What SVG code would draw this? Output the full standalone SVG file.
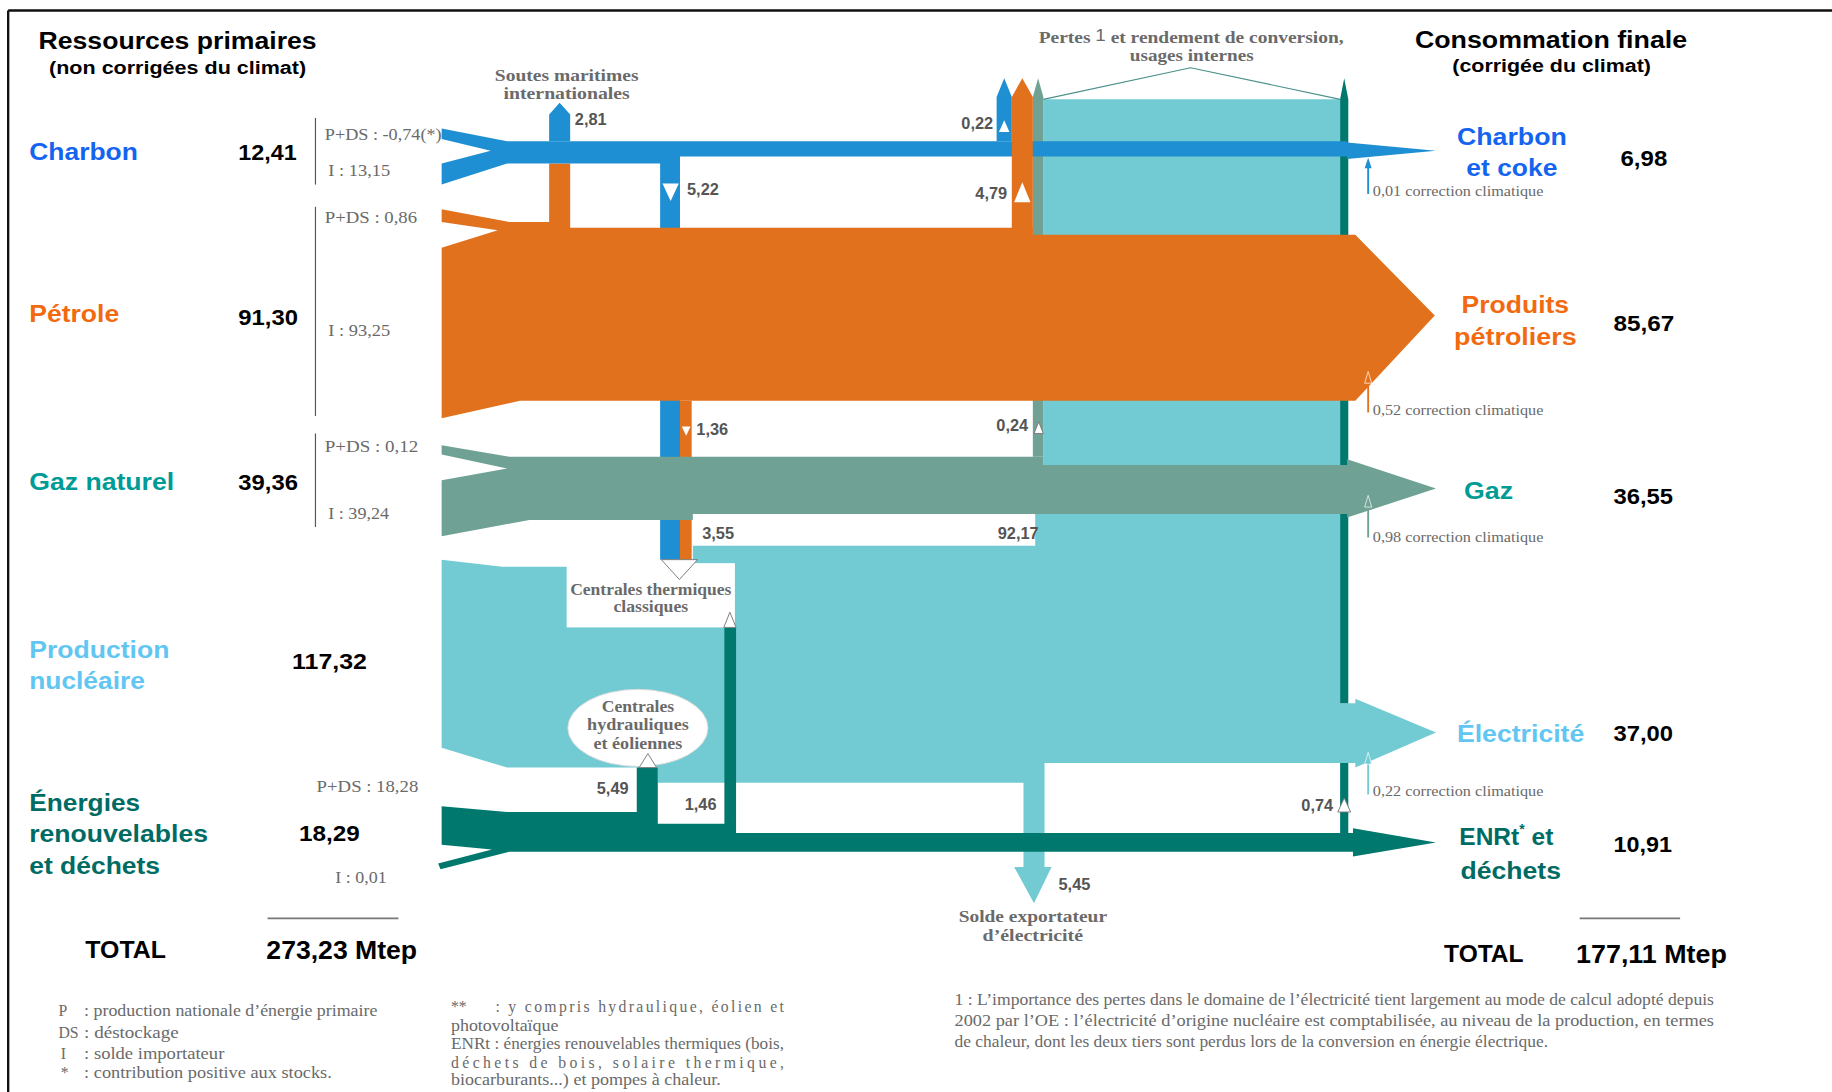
<svg xmlns="http://www.w3.org/2000/svg" width="1832" height="1092" viewBox="0 0 1832 1092">
<style>
.t{font-family:"Liberation Sans",Arial,sans-serif;font-weight:bold}
.nr{font-family:"Liberation Sans Narrow","Liberation Sans",Arial,sans-serif;font-weight:bold}
.n{font-family:"Liberation Sans Narrow","Liberation Sans",Arial,sans-serif;font-weight:bold;fill:#555;font-size:14px}
.s{font-family:"Liberation Serif","Times New Roman",serif;fill:#6a6a6a;font-size:13.5px}
.sl{font-family:"Liberation Serif","Times New Roman",serif;fill:#6a6a6a;font-size:15px}
.sb{font-family:"Liberation Serif","Times New Roman",serif;font-weight:bold;fill:#6a6a6a;font-size:14.5px}
.cc{font-family:"Liberation Serif","Times New Roman",serif;fill:#6a6a6a;font-size:12px}
.blue{fill:#1e8fd2}.or{fill:#e2711d}.gas{fill:#6fa294}.cy{fill:#72cbd3}.te{fill:#00786e}
.wt{fill:#fff}
.tri{fill:#fff;stroke:#777;stroke-width:0.8}
.br{stroke:#555;stroke-width:1;fill:none}
.k{fill:#000}
</style>
<rect width="1832" height="1092" fill="#fff"/>
<g transform="scale(1.16837)">
<path d="M7,9 H1568 M7,9 V935" stroke="#111" stroke-width="2" fill="none"/>

<g id="flows">
  <path id="flow-nucleaire" class="cy" d="M378,479 L430,485 L593,485 L593,467 L886,467 L886,440 L893,440 L893,85 L1147,85 L1147,602 L1160,602 L1160,598 L1229,627 L1160,657 L1160,653 L894,653 L894,742 L900,742 L885,773 L868,742 L876,742 L876,670 L563,670 L563,657 L434,657 L378,640 Z"/>
  <path id="roof" d="M893,85 L1019,58 L1147,85" fill="none" stroke="#4a8f8a" stroke-width="1"/>
  <path id="col-gas-pertes" class="gas" d="M884,391 L884,83 L888.5,67 L893,83 L893,391 Z"/>
  <path id="col-enr-pertes" class="te" d="M1147,602 L1147,85 L1150.5,67 L1154,85 L1154,602 Z M1147,653 H1154 V713 H1147 Z"/>
  <rect id="col-522" class="blue" x="565" y="134" width="17" height="345"/>
  <rect id="col-136" class="or" x="582" y="343" width="10" height="136"/>
  <path id="flow-petrole" class="or" d="M378,179 L436,190 L470,190 L470,140 L488,140 L488,195 L884,195 L884,201 L1160,201 L1228,270 L1160,343 L445,343 L378,358 L378,212 L426,197 L378,190 Z"/>
  <path id="flow-gaz" class="gas" d="M378,381 L436,391 L893,391 L893,398 L1153,398 L1153,393 L1229,418 L1153,443 L1153,440 L593,440 L593,445 L453,445 L378,459 L378,411 L434,401 L378,389 Z"/>
  <path id="flow-charbon" class="blue" d="M378,110 L434,121 L1153,121 L1153,122 L1229,129 L1153,136 L1153,134 L582,134 L582,140 L434,140 L378,158 L378,140 L420,129 L378,119 Z"/>
  <path id="col-022" class="blue" d="M853,121 L853,83 L859.5,67 L866,83 L866,121 Z"/>
  <path id="col-479" class="or" d="M866,201 L866,83 L875,67 L884,83 L884,201 Z"/>
  <path id="col-soutes" class="blue" d="M470,121 L470,98 L479,88 L488,98 L488,121 Z"/>
  <path id="flow-enr" class="te" d="M378,690 L434,695 L545,695 L545,657 L563,657 L563,705 L620,705 L620,537 L630,537 L630,713 L1158,713 L1158,709 L1229,721 L1158,733 L1158,729 L436,729 L377,744 L375,739 L421,727 L378,723 Z"/>
  <polygon class="wt" points="567,157 581,157 574,172"/>
  <polygon class="wt" points="868,173 882,173 875,156"/>
  <polygon class="wt" points="855,113 864,113 859.5,103"/>
  <polygon class="wt" points="583.5,365 591,365 587.3,373"/>
  <polygon class="tri" points="885,371 893,371 889,361"/>
  <polygon class="tri" points="1145,695 1156,695 1150.5,683"/>
  <g id="corr-charbon">
    <line x1="1171" y1="166" x2="1171" y2="142" stroke="#1e8fd2" stroke-width="1.6"/>
    <polygon points="1168,144 1174,144 1171,135" fill="#1e8fd2"/>
  </g>
  <g id="corr-petrole">
    <line x1="1171" y1="353" x2="1171" y2="326" stroke="#e2711d" stroke-width="1.6"/>
    <polygon points="1168,328 1174,328 1171,318" fill="#e2711d" stroke="#fff" stroke-width="0.6"/>
  </g>
  <g id="corr-gaz">
    <line x1="1171" y1="460" x2="1171" y2="432" stroke="#6fa294" stroke-width="1.6"/>
    <polygon points="1168,434 1174,434 1171,424" fill="#6fa294" stroke="#fff" stroke-width="0.6"/>
  </g>
  <g id="corr-elec">
    <line x1="1171" y1="680" x2="1171" y2="652" stroke="#72cbd3" stroke-width="1.6"/>
    <polygon points="1168,654 1174,654 1171,644" fill="#72cbd3" stroke="#fff" stroke-width="0.6"/>
  </g>
</g>

<g id="node-centrales-thermiques">
  <rect x="485" y="482" width="144" height="55" fill="#fff"/>
  <polygon class="tri" points="566,479 597,479 581.5,496"/>
  <polygon class="tri" points="619.5,537 630,537 624.7,524"/>
  <text class="sb" x="557" y="509" text-anchor="middle" textLength="138" lengthAdjust="spacingAndGlyphs">Centrales thermiques</text>
  <text class="sb" x="557" y="524" text-anchor="middle" textLength="64" lengthAdjust="spacingAndGlyphs">classiques</text>
</g>
<g id="node-centrales-hydrauliques">
  <ellipse cx="546" cy="623" rx="60" ry="33" fill="#fff" stroke="#d8d8d8" stroke-width="0.8"/>
  <polygon class="tri" points="547,657 562,657 554.5,645"/>
  <text class="sb" x="546" y="609" text-anchor="middle" textLength="62" lengthAdjust="spacingAndGlyphs">Centrales</text>
  <text class="sb" x="546" y="625" text-anchor="middle" textLength="87" lengthAdjust="spacingAndGlyphs">hydrauliques</text>
  <text class="sb" x="546" y="641" text-anchor="middle" textLength="76" lengthAdjust="spacingAndGlyphs">et éoliennes</text>
</g>
<g id="node-soutes">
  <text class="sb" x="485" y="69" text-anchor="middle" textLength="123" lengthAdjust="spacingAndGlyphs">Soutes maritimes</text>
  <text class="sb" x="485" y="85" text-anchor="middle" textLength="108" lengthAdjust="spacingAndGlyphs">internationales</text>
</g>
<g id="node-pertes">
  <text class="sb" x="889" y="37" font-size="13" textLength="261" lengthAdjust="spacingAndGlyphs">Pertes <tspan font-family="Liberation Sans, Arial, sans-serif" font-weight="normal" font-size="14" dy="-2">1</tspan><tspan dy="2"> et rendement de conversion,</tspan></text>
  <text class="sb" x="1020" y="52" font-size="13" text-anchor="middle" textLength="106" lengthAdjust="spacingAndGlyphs">usages internes</text>
</g>
<g id="node-solde">
  <text class="sb" x="884" y="789" text-anchor="middle" textLength="127" lengthAdjust="spacingAndGlyphs">Solde exportateur</text>
  <text class="sb" x="884" y="805" text-anchor="middle" textLength="86" lengthAdjust="spacingAndGlyphs">d’électricité</text>
</g>

<g id="flow-labels">
  <text class="n" x="492" y="107">2,81</text>
  <text class="n" x="588" y="167">5,22</text>
  <text class="n" x="850" y="110" text-anchor="end">0,22</text>
  <text class="n" x="862" y="170" text-anchor="end">4,79</text>
  <text class="n" x="596" y="372">1,36</text>
  <text class="n" x="880" y="369" text-anchor="end">0,24</text>
  <text class="n" x="601" y="461">3,55</text>
  <text class="n" x="889" y="461" text-anchor="end">92,17</text>
  <text class="n" x="538" y="680" text-anchor="end">5,49</text>
  <text class="n" x="586" y="693">1,46</text>
  <text class="n" x="906" y="762">5,45</text>
  <text class="n" x="1141" y="694" text-anchor="end">0,74</text>
  <text class="cc" x="1175" y="168" textLength="146" lengthAdjust="spacingAndGlyphs">0,01 correction climatique</text>
  <text class="cc" x="1175" y="355" textLength="146" lengthAdjust="spacingAndGlyphs">0,52 correction climatique</text>
  <text class="cc" x="1175" y="464" textLength="146" lengthAdjust="spacingAndGlyphs">0,98 correction climatique</text>
  <text class="cc" x="1175" y="681" textLength="146" lengthAdjust="spacingAndGlyphs">0,22 correction climatique</text>
</g>

<g id="header-left">
  <text class="t k" x="33" y="42" font-size="21" textLength="238" lengthAdjust="spacingAndGlyphs">Ressources primaires</text>
  <text class="t k" x="42" y="63" font-size="16" textLength="220" lengthAdjust="spacingAndGlyphs">(non corrigées du climat)</text>
</g>
<g id="header-right">
  <text class="t k" x="1211" y="41" font-size="21" textLength="233" lengthAdjust="spacingAndGlyphs">Consommation finale</text>
  <text class="t k" x="1243" y="62" font-size="16" textLength="170" lengthAdjust="spacingAndGlyphs">(corrigée du climat)</text>
</g>

<g id="src-charbon">
  <text class="t" x="25" y="137" font-size="21" fill="#1464f0" textLength="93" lengthAdjust="spacingAndGlyphs">Charbon</text>
  <text class="t k" x="204" y="137" font-size="19" textLength="50" lengthAdjust="spacingAndGlyphs">12,41</text>
  <path class="br" d="M270,101 V158"/>
  <text class="sl" x="278" y="120" textLength="100" lengthAdjust="spacingAndGlyphs">P+DS : -0,74(*)</text>
  <text class="sl" x="281" y="151" textLength="53" lengthAdjust="spacingAndGlyphs">I : 13,15</text>
</g>
<g id="src-petrole">
  <text class="t" x="25" y="276" font-size="21" fill="#f26a10" textLength="77" lengthAdjust="spacingAndGlyphs">Pétrole</text>
  <text class="t k" x="204" y="278" font-size="19" textLength="51" lengthAdjust="spacingAndGlyphs">91,30</text>
  <path class="br" d="M270,177 V356"/>
  <text class="sl" x="278" y="191" textLength="79" lengthAdjust="spacingAndGlyphs">P+DS : 0,86</text>
  <text class="sl" x="281" y="288" textLength="53" lengthAdjust="spacingAndGlyphs">I : 93,25</text>
</g>
<g id="src-gaz">
  <text class="t" x="25" y="419" font-size="21" fill="#009b95" textLength="124" lengthAdjust="spacingAndGlyphs">Gaz naturel</text>
  <text class="t k" x="204" y="419" font-size="19" textLength="51" lengthAdjust="spacingAndGlyphs">39,36</text>
  <path class="br" d="M270,371 V451"/>
  <text class="sl" x="278" y="387" textLength="80" lengthAdjust="spacingAndGlyphs">P+DS : 0,12</text>
  <text class="sl" x="281" y="444" textLength="52" lengthAdjust="spacingAndGlyphs">I : 39,24</text>
</g>
<g id="src-nucleaire">
  <text class="t" x="25" y="563" font-size="21" fill="#62c6f2" textLength="120" lengthAdjust="spacingAndGlyphs">Production</text>
  <text class="t" x="25" y="590" font-size="21" fill="#62c6f2" textLength="99" lengthAdjust="spacingAndGlyphs">nucléaire</text>
  <text class="t k" x="250" y="573" font-size="19" textLength="64" lengthAdjust="spacingAndGlyphs">117,32</text>
</g>
<g id="src-enr">
  <text class="t" x="25" y="694" font-size="21" fill="#006b63" textLength="95" lengthAdjust="spacingAndGlyphs">Énergies</text>
  <text class="t" x="25" y="721" font-size="21" fill="#006b63" textLength="153" lengthAdjust="spacingAndGlyphs">renouvelables</text>
  <text class="t" x="25" y="748" font-size="21" fill="#006b63" textLength="112" lengthAdjust="spacingAndGlyphs">et déchets</text>
  <text class="t k" x="256" y="720" font-size="19" textLength="52" lengthAdjust="spacingAndGlyphs">18,29</text>
  <text class="sl" x="271" y="678" textLength="87" lengthAdjust="spacingAndGlyphs">P+DS : 18,28</text>
  <text class="sl" x="287" y="756" textLength="44" lengthAdjust="spacingAndGlyphs">I : 0,01</text>
</g>
<g id="total-left">
  <path d="M229,786 H341" stroke="#777" stroke-width="1.5"/>
  <text class="nr k" x="73" y="820" font-size="20" textLength="69" lengthAdjust="spacingAndGlyphs">TOTAL</text>
  <text class="nr k" x="228" y="821" font-size="22" textLength="129" lengthAdjust="spacingAndGlyphs">273,23 Mtep</text>
</g>

<g id="dst-charbon">
  <text class="t" x="1294" y="124" font-size="21" fill="#1464f0" text-anchor="middle" textLength="94" lengthAdjust="spacingAndGlyphs">Charbon</text>
  <text class="t" x="1294" y="151" font-size="21" fill="#1464f0" text-anchor="middle" textLength="78" lengthAdjust="spacingAndGlyphs">et coke</text>
  <text class="nr k" x="1387" y="142" font-size="19" textLength="40" lengthAdjust="spacingAndGlyphs">6,98</text>
</g>
<g id="dst-petrole">
  <text class="t" x="1297" y="268" font-size="21" fill="#f26a10" text-anchor="middle" textLength="92" lengthAdjust="spacingAndGlyphs">Produits</text>
  <text class="t" x="1297" y="295" font-size="21" fill="#f26a10" text-anchor="middle" textLength="105" lengthAdjust="spacingAndGlyphs">pétroliers</text>
  <text class="nr k" x="1381" y="283" font-size="19" textLength="52" lengthAdjust="spacingAndGlyphs">85,67</text>
</g>
<g id="dst-gaz">
  <text class="t" x="1253" y="427" font-size="21" fill="#009b95" textLength="42" lengthAdjust="spacingAndGlyphs">Gaz</text>
  <text class="nr k" x="1381" y="431" font-size="19" textLength="51" lengthAdjust="spacingAndGlyphs">36,55</text>
</g>
<g id="dst-elec">
  <text class="t" x="1247" y="635" font-size="21" fill="#62c6f2" textLength="109" lengthAdjust="spacingAndGlyphs">Électricité</text>
  <text class="nr k" x="1381" y="634" font-size="19" textLength="51" lengthAdjust="spacingAndGlyphs">37,00</text>
</g>
<g id="dst-enr">
  <text class="t" x="1249" y="723" font-size="21" fill="#006b63">ENRt<tspan font-size="12" dy="-9">*</tspan><tspan dy="9"> et</tspan></text>
  <text class="t" x="1250" y="752" font-size="21" fill="#006b63" textLength="86" lengthAdjust="spacingAndGlyphs">déchets</text>
  <text class="nr k" x="1381" y="729" font-size="19" textLength="50" lengthAdjust="spacingAndGlyphs">10,91</text>
</g>
<g id="total-right">
  <path d="M1352,786 H1438" stroke="#777" stroke-width="1.5"/>
  <text class="nr k" x="1236" y="823" font-size="20" textLength="68" lengthAdjust="spacingAndGlyphs">TOTAL</text>
  <text class="nr k" x="1349" y="824" font-size="22" textLength="129" lengthAdjust="spacingAndGlyphs">177,11 Mtep</text>
</g>

<g id="legend-left">
  <text class="s" x="50" y="870">P</text><text class="s" x="72" y="870" textLength="251" lengthAdjust="spacingAndGlyphs">: production nationale d’énergie primaire</text>
  <text class="s" x="50" y="888">DS</text><text class="s" x="72" y="888" textLength="81" lengthAdjust="spacingAndGlyphs">: déstockage</text>
  <text class="s" x="52" y="906">I</text><text class="s" x="72" y="906" textLength="120" lengthAdjust="spacingAndGlyphs">: solde importateur</text>
  <text class="s" x="52" y="923">*</text><text class="s" x="72" y="923" textLength="212" lengthAdjust="spacingAndGlyphs">: contribution positive aux stocks.</text>
</g>
<g id="legend-middle">
  <text class="s" x="386" y="866">**</text><text class="s" x="424" y="866" textLength="247" lengthAdjust="spacing">: y compris hydraulique, éolien et</text>
  <text class="s" x="386" y="882" textLength="92" lengthAdjust="spacingAndGlyphs">photovoltaïque</text>
  <text class="s" x="386" y="898" textLength="285" lengthAdjust="spacingAndGlyphs">ENRt : énergies renouvelables thermiques (bois,</text>
  <text class="s" x="386" y="914" textLength="285" lengthAdjust="spacing">déchets de bois, solaire thermique,</text>
  <text class="s" x="386" y="929" textLength="231" lengthAdjust="spacingAndGlyphs">biocarburants...) et pompes à chaleur.</text>
</g>
<g id="legend-right">
  <text class="s" x="817" y="860" textLength="650" lengthAdjust="spacingAndGlyphs">1 : L’importance des pertes dans le domaine de l’électricité tient largement au mode de calcul adopté depuis</text>
  <text class="s" x="817" y="878" textLength="650" lengthAdjust="spacingAndGlyphs">2002 par l’OE :  l’électricité d’origine nucléaire est comptabilisée, au niveau de la production, en termes</text>
  <text class="s" x="817" y="896" textLength="508" lengthAdjust="spacingAndGlyphs">de chaleur, dont les deux tiers sont perdus lors de la conversion en énergie électrique.</text>
</g>
</g>
</svg>
